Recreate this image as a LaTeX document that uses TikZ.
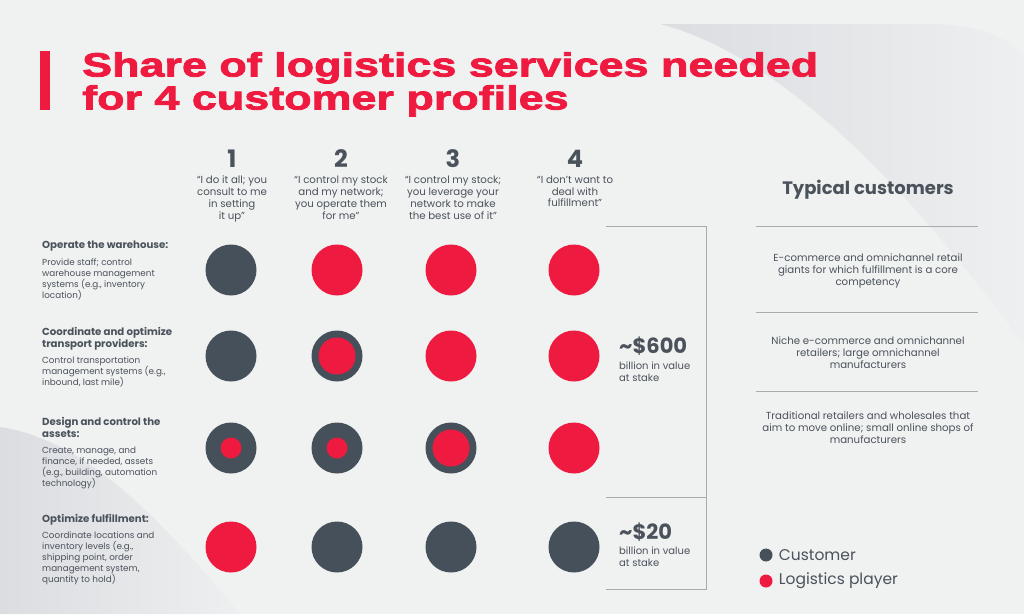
\documentclass[tikz,border=0pt]{standalone}
\usepackage{fontspec}
\setmainfont{Poppins}
\newfontfamily\titlefont[FakeStretch=1.34, BoldFeatures={FakeBold=2.5}]{Liberation Sans}
\usepackage{xcolor}
\usepackage{tikz}
\usetikzlibrary{positioning}
\definecolor{pageGray}{HTML}{F0F1F1}
\definecolor{shapeDark}{HTML}{DCDDE1}
\definecolor{shapeLight}{HTML}{EEEFF0}
\definecolor{inkGray}{HTML}{4A525B}
\definecolor{custGray}{HTML}{46505A}
\definecolor{playRed}{HTML}{EF1A3F}
\definecolor{ruleGray}{HTML}{A8AAB0}
\tikzset{
  cust dot/.style={circle, fill=custGray, minimum size=51pt, inner sep=0pt},
  player dot/.style={circle, fill=playRed, minimum size=51pt, inner sep=0pt},
  share mid/.style={circle, fill=playRed, minimum size=37pt, inner sep=0pt},
  share small/.style={circle, fill=playRed, minimum size=21pt, inner sep=0pt},
  num label/.style={font=\fontsize{24}{24}\selectfont\bfseries, text=inkGray,
    inner sep=0pt},
  quote text/.style={font=\fontsize{10.2}{11.7}\selectfont, text=inkGray,
    align=center, inner sep=0pt},
  row head/.style={font=\fontsize{10.2}{12}\selectfont\bfseries, text=inkGray,
    align=left, inner sep=0pt, anchor=north west, text depth=2pt},
  row body/.style={font=\fontsize{8.8}{11}\selectfont, text=inkGray,
    align=left, inner sep=0pt},
  stake big/.style={font=\fontsize{21}{21}\selectfont\bfseries, text=inkGray,
    inner sep=0pt, anchor=west},
  stake small/.style={font=\fontsize{10}{11.5}\selectfont, text=inkGray,
    align=left, inner sep=0pt, anchor=north west},
  cust text/.style={font=\fontsize{10.2}{12}\selectfont, text=inkGray,
    align=center, inner sep=0pt},
  rule/.style={draw=ruleGray, line width=0.9pt},
  legend dot/.style={circle, minimum size=13pt, inner sep=0pt},
  legend text/.style={font=\fontsize{15.5}{16}\selectfont, text=inkGray,
    inner sep=0pt}
}
\begin{document}
\begin{tikzpicture}[x=1pt, y=-1pt]
  \useasboundingbox[fill=pageGray] (0,0) rectangle (1024,614);
  % background shapes
  \shade[left color=shapeDark, right color=shapeLight]
    (660,24) -- (930,24) .. controls (985,24) and (1024,45) .. (1024,60)
    -- (1024,345) .. controls (940,230) and (800,60) .. (660,24) -- cycle;
  \shade[left color=shapeDark, right color=shapeLight]
    (0,427) .. controls (90,440) and (170,530) .. (240,614) -- (0,614) -- cycle;
  % title
  \fill[playRed] (40,51) rectangle (50,110);
  \node[anchor=north west, inner sep=0pt, align=left, text=playRed,
    font=\titlefont\bfseries\fontsize{33.5}{33}\selectfont] (title) at (82,52)
    {Share of logistics services needed\\for 4 customer profiles};
  % column headers
  \node[num label] (n1) at (232,159) {1};
  \node[num label] (n2) at (341,159) {2};
  \node[num label] (n3) at (453,159) {3};
  \node[num label] (n4) at (575,159) {4};
  \node[quote text, below=8pt of n1] (q1) {“I do it all; you\\consult to me\\in setting\\it up”};
  \node[quote text, below=8pt of n2] (q2) {“I control my stock\\and my network;\\you operate them\\for me”};
  \node[quote text, below=8pt of n3] (q3) {“I control my stock;\\you leverage your\\network to make\\the best use of it”};
  \node[quote text, below=8pt of n4] (q4) {“I don’t want to\\deal with\\fulfillment”};
  % row labels
  \node[row head] (h1) at (42,241) {Operate the warehouse:};
  \node[row body, below=7.5pt of h1.south west, anchor=north west] (b1)
    {Provide staff; control\\warehouse management\\systems (e.g., inventory\\location)};
  \node[row head] (h2) at (42,327) {Coordinate and optimize\\transport providers:};
  \node[row body, below=7.5pt of h2.south west, anchor=north west] (b2)
    {Control transportation\\management systems (e.g.,\\inbound, last mile)};
  \node[row head] (h3) at (42,417) {Design and control the\\assets:};
  \node[row body, below=7.5pt of h3.south west, anchor=north west] (b3)
    {Create, manage, and\\finance, if needed, assets\\(e.g., building, automation\\technology)};
  \node[row head] (h4) at (42,514) {Optimize fulfillment:};
  \node[row body, below=7.5pt of h4.south west, anchor=north west] (b4)
    {Coordinate locations and\\inventory levels (e.g.,\\shipping point, order\\management system,\\quantity to hold)};
  % dots
  \node[cust dot] (d11) at (231,270) {};
  \node[player dot] (d12) at (337,270) {};
  \node[player dot] (d13) at (451,270) {};
  \node[player dot] (d14) at (574,270) {};
  \node[cust dot] (d21) at (231,356) {};
  \node[cust dot] (d22) at (337,356) {};
  \node[share mid] (d22r) at (d22) {};
  \node[player dot] (d23) at (451,356) {};
  \node[player dot] (d24) at (574,356) {};
  \node[cust dot] (d31) at (231,448) {};
  \node[share small] (d31r) at (d31) {};
  \node[cust dot] (d32) at (337,448) {};
  \node[share small] (d32r) at (d32) {};
  \node[cust dot] (d33) at (451,448) {};
  \node[share mid] (d33r) at (d33) {};
  \node[player dot] (d34) at (574,448) {};
  \node[player dot] (d41) at (231,547) {};
  \node[cust dot] (d42) at (337,547) {};
  \node[cust dot] (d43) at (451,547) {};
  \node[cust dot] (d44) at (574,547) {};
  % value bracket
  \draw[rule] (606,226) -- (706,226) -- (706,589) -- (606,589);
  \draw[rule] (606,497) -- (706,497);
  \node[stake big] (v1) at (619,346) {\textasciitilde\$600};
  \node[stake small] (v1t) at (619,362) {billion in value\\at stake};
  \node[stake big] (v2) at (619,532) {\textasciitilde\$20};
  \node[stake small] (v2t) at (619,547) {billion in value\\at stake};
  % typical customers
  \node[font=\fontsize{18}{18}\selectfont\bfseries, text=inkGray, inner sep=0pt]
    (tc) at (868,190) {Typical customers};
  \draw[rule] (756,226) -- (978,226);
  \draw[rule] (756,312) -- (978,312);
  \draw[rule] (756,391) -- (978,391);
  \node[cust text] (t1) at (868,271)
    {E-commerce and omnichannel retail\\giants for which fulfillment is a core\\competency};
  \node[cust text] (t2) at (868,353)
    {Niche e-commerce and omnichannel\\retailers; large omnichannel\\manufacturers};
  \node[cust text] (t3) at (868,428)
    {Traditional retailers and wholesales that\\aim to move online; small online shops of\\manufacturers};
  % legend
  \node[legend dot, fill=custGray] (lg1) at (766,555) {};
  \node[legend text, right=6pt of lg1] (lg1t) {Customer};
  \node[legend dot, fill=playRed] (lg2) at (766,581) {};
  \node[legend text, right=6pt of lg2] (lg2t) {Logistics player};
\end{tikzpicture}
\end{document}
